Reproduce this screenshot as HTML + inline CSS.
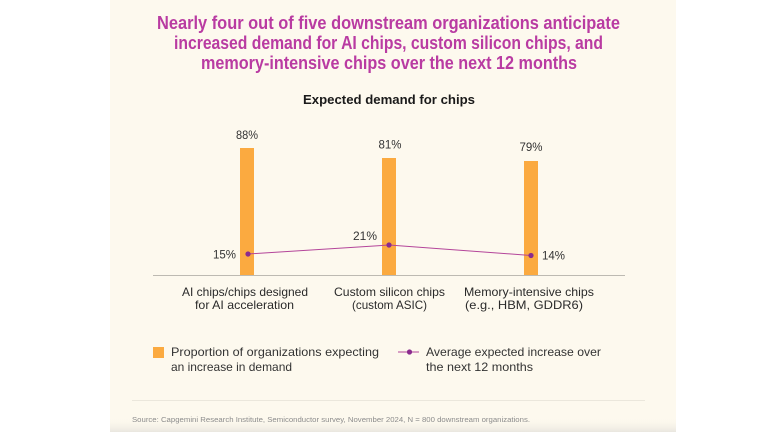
<!DOCTYPE html>
<html>
<head>
<meta charset="utf-8">
<style>
  html,body{margin:0;padding:0;background:#ffffff;}
  svg{display:block;}
  text{font-family:"Liberation Sans", sans-serif;}
</style>
</head>
<body>
<svg width="768" height="432" viewBox="0 0 768 432" xmlns="http://www.w3.org/2000/svg">
  <defs>
    <linearGradient id="bot" x1="0" y1="0" x2="0" y2="1">
      <stop offset="0" stop-color="#fcf8ed" stop-opacity="0"/>
      <stop offset="1" stop-color="#e9e6df" stop-opacity="1"/>
    </linearGradient>
  </defs>
  <rect x="0" y="0" width="768" height="432" fill="#ffffff"/>
  <rect x="110" y="0" width="566" height="432" fill="#fdf9ee"/>
  <rect x="110" y="418" width="566" height="14" fill="url(#bot)"/>

  <!-- Title -->
  <g fill="#b93ba2" font-size="18" font-weight="bold" text-anchor="middle">
    <text x="388.5" y="29" textLength="463" lengthAdjust="spacingAndGlyphs">Nearly four out of five downstream organizations anticipate</text>
    <text x="388.5" y="49" textLength="429" lengthAdjust="spacingAndGlyphs">increased demand for AI chips, custom silicon chips, and</text>
    <text x="389" y="69" textLength="376" lengthAdjust="spacingAndGlyphs">memory-intensive chips over the next 12 months</text>
  </g>

  <!-- Subtitle -->
  <text x="389" y="104" font-size="13" font-weight="bold" fill="#1a1a1a" text-anchor="middle" textLength="172" lengthAdjust="spacingAndGlyphs">Expected demand for chips</text>

  <!-- Axis -->
  <line x1="153" y1="275.5" x2="625" y2="275.5" stroke="#bdbab2" stroke-width="1"/>

  <!-- Bars -->
  <g fill="#fbaa40">
    <rect x="240" y="148" width="14" height="127"/>
    <rect x="382" y="158" width="14" height="117"/>
    <rect x="524" y="161" width="14" height="114"/>
  </g>

  <!-- Bar labels -->
  <g font-size="12" fill="#333" text-anchor="middle">
    <text x="247" y="139" textLength="22" lengthAdjust="spacingAndGlyphs">88%</text>
    <text x="390" y="148.5" textLength="23" lengthAdjust="spacingAndGlyphs">81%</text>
    <text x="531" y="151" textLength="23" lengthAdjust="spacingAndGlyphs">79%</text>
  </g>

  <!-- Line series -->
  <polyline points="248,254 389,245 531,255.5" fill="none" stroke="#b4459a" stroke-width="1"/>
  <g fill="#8a2b8e">
    <circle cx="248" cy="254" r="2.6"/>
    <circle cx="389" cy="245" r="2.6"/>
    <circle cx="531" cy="255.5" r="2.6"/>
  </g>
  <g font-size="12" fill="#333" text-anchor="middle">
    <text x="224.5" y="258.5" textLength="23" lengthAdjust="spacingAndGlyphs">15%</text>
    <text x="365" y="240" textLength="24" lengthAdjust="spacingAndGlyphs">21%</text>
    <text x="553.5" y="259.5" textLength="23" lengthAdjust="spacingAndGlyphs">14%</text>
  </g>

  <!-- Category labels -->
  <g font-size="12" fill="#2a2a2a" text-anchor="middle">
    <text x="245" y="296" textLength="126" lengthAdjust="spacingAndGlyphs">AI chips/chips designed</text>
    <text x="244.5" y="309" textLength="99" lengthAdjust="spacingAndGlyphs">for AI acceleration</text>
    <text x="389.5" y="296" textLength="111" lengthAdjust="spacingAndGlyphs">Custom silicon chips</text>
    <text x="389.5" y="309" textLength="75" lengthAdjust="spacingAndGlyphs">(custom ASIC)</text>
    <text x="529" y="296" textLength="130" lengthAdjust="spacingAndGlyphs">Memory-intensive chips</text>
    <text x="524" y="309" textLength="118" lengthAdjust="spacingAndGlyphs">(e.g., HBM, GDDR6)</text>
  </g>

  <!-- Legend -->
  <rect x="153" y="347" width="11" height="11" fill="#fbaa40"/>
  <g font-size="12" fill="#333">
    <text x="171" y="356" textLength="208" lengthAdjust="spacingAndGlyphs">Proportion of organizations expecting</text>
    <text x="171" y="371" textLength="121" lengthAdjust="spacingAndGlyphs">an increase in demand</text>
    <text x="426" y="356" textLength="175" lengthAdjust="spacingAndGlyphs">Average expected increase over</text>
    <text x="426" y="371" textLength="107" lengthAdjust="spacingAndGlyphs">the next 12 months</text>
  </g>
  <line x1="398" y1="352" x2="419" y2="352" stroke="#b4459a" stroke-width="1"/>
  <circle cx="409.5" cy="352" r="2.6" fill="#8a2b8e"/>

  <!-- Divider & source -->
  <line x1="132" y1="400.5" x2="645" y2="400.5" stroke="#ebe7dc" stroke-width="1"/>
  <text x="132" y="422" font-size="7" fill="#8c8c8c" textLength="398" lengthAdjust="spacingAndGlyphs">Source: Capgemini Research Institute, Semiconductor survey, November 2024, N = 800 downstream organizations.</text>
</svg>
</body>
</html>
